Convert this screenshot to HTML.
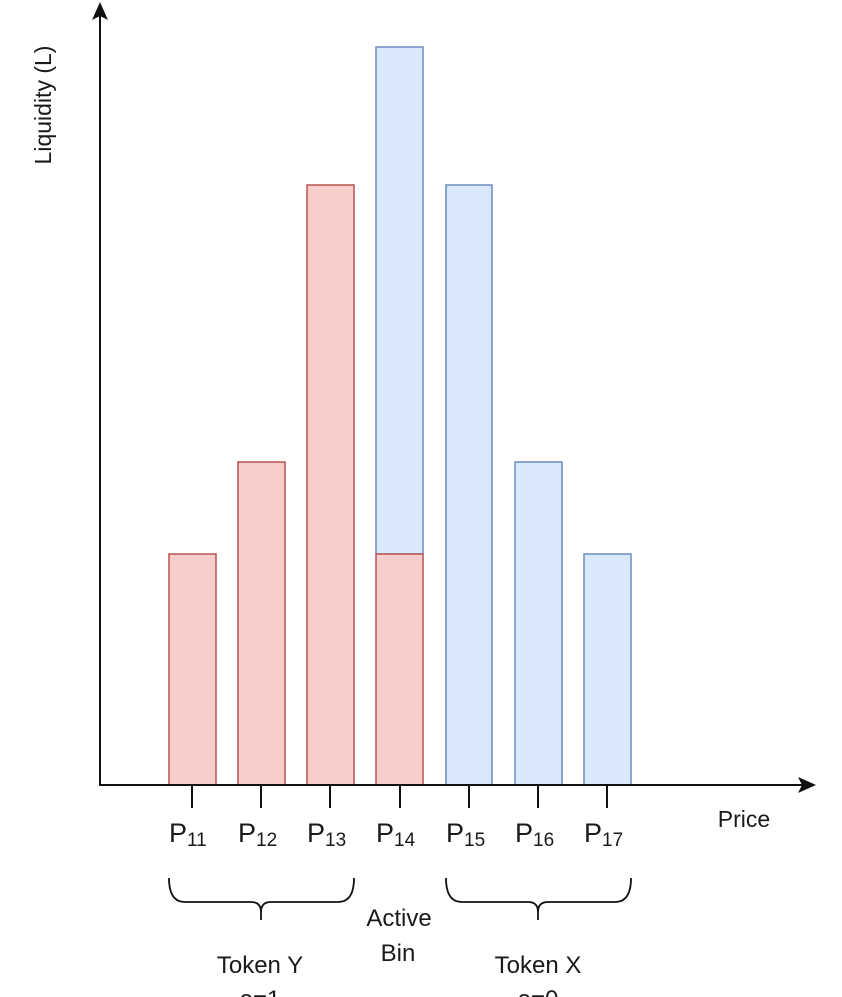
<!DOCTYPE html>
<html><head><style>body{margin:0;background:#fff}svg{display:block}text{font-family:"Liberation Sans",sans-serif;fill:#1a1a1a}</style></head>
<body>
<svg width="842" height="997" viewBox="0 0 842 997" xmlns="http://www.w3.org/2000/svg">
<g stroke-width="1.5">
<rect x="169" y="554" width="47" height="231" fill="#f8cecc" stroke="#b85450"/>
<rect x="238" y="462" width="47" height="323" fill="#f8cecc" stroke="#b85450"/>
<rect x="307" y="185" width="47" height="600" fill="#f8cecc" stroke="#b85450"/>
<rect x="376" y="47" width="47" height="507" fill="#dae8fc" stroke="#6c8ebf"/>
<rect x="376" y="554" width="47" height="231" fill="#f8cecc" stroke="#b85450"/>
<rect x="446" y="185" width="46" height="600" fill="#dae8fc" stroke="#6c8ebf"/>
<rect x="515" y="462" width="47" height="323" fill="#dae8fc" stroke="#6c8ebf"/>
<rect x="584" y="554" width="47" height="231" fill="#dae8fc" stroke="#6c8ebf"/>
</g>
<g stroke="#111" stroke-width="2" fill="none">
<line x1="100" y1="14" x2="100" y2="786"/>
<line x1="99" y1="785" x2="802" y2="785"/>
<line x1="192" y1="786" x2="192" y2="808"/>
<line x1="261" y1="786" x2="261" y2="808"/>
<line x1="330" y1="786" x2="330" y2="808"/>
<line x1="400" y1="786" x2="400" y2="808"/>
<line x1="469" y1="786" x2="469" y2="808"/>
<line x1="538" y1="786" x2="538" y2="808"/>
<line x1="607" y1="786" x2="607" y2="808"/>
<path d="M169 878 Q169 902 185 902 L251 902 Q261 902 261 912 L261 920 M261 912 Q261 902 271 902 L338 902 Q354 902 354 878" stroke-width="1.8"/>
<path d="M446 878 Q446 902 462 902 L528 902 Q538 902 538 912 L538 920 M538 912 Q538 902 548 902 L615 902 Q631 902 631 878" stroke-width="1.8"/>
</g>
<polygon points="100,2 92,20 100,16 108,20" fill="#111"/>
<polygon points="816,785 798,777 802,785 798,793" fill="#111"/>
<g font-size="27">
<text x="169" y="842">P<tspan font-size="19" dy="4">11</tspan></text>
<text x="238" y="842">P<tspan font-size="19" dy="4">12</tspan></text>
<text x="307" y="842">P<tspan font-size="19" dy="4">13</tspan></text>
<text x="376" y="842">P<tspan font-size="19" dy="4">14</tspan></text>
<text x="446" y="842">P<tspan font-size="19" dy="4">15</tspan></text>
<text x="515" y="842">P<tspan font-size="19" dy="4">16</tspan></text>
<text x="584" y="842">P<tspan font-size="19" dy="4">17</tspan></text>
</g>
<g font-size="24" text-anchor="middle">
<text x="744" y="827" font-size="23">Price</text>
<text x="399" y="926">Active</text>
<text x="398" y="961">Bin</text>
<text x="260" y="973">Token Y</text>
<text x="538" y="973">Token X</text>
<text x="260" y="1007">e=1</text>
<text x="538" y="1007">e=0</text>
<text transform="translate(51,105) rotate(-90)" font-size="23">Liquidity (L)</text>
</g>
</svg>
</body></html>
